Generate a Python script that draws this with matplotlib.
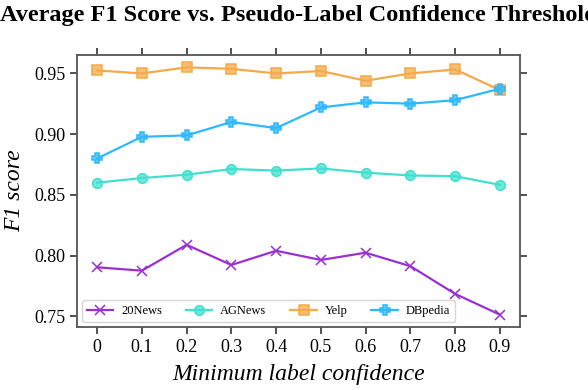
import numpy as np
import matplotlib
matplotlib.use("Agg")
import matplotlib.pyplot as plt

# confidence thresholds and average F1 per dataset
thresholds = [0, 0.1, 0.2, 0.3, 0.4, 0.5, 0.6, 0.7, 0.8, 0.9]
tick_labels = ["0", "0.1", "0.2", "0.3", "0.4", "0.5", "0.6", "0.7", "0.8", "0.9"]

news20 = [0.7904, 0.7876, 0.8089, 0.7923, 0.8040, 0.7964, 0.8024, 0.7913, 0.7685, 0.7514]
agnews = [0.8600, 0.8639, 0.8666, 0.8713, 0.8700, 0.8718, 0.8683, 0.8660, 0.8654, 0.8583]
yelp = [0.9525, 0.9500, 0.9550, 0.9538, 0.9500, 0.9520, 0.9440, 0.9500, 0.9533, 0.9363]
dbpedia = [0.8800, 0.8978, 0.8990, 0.9100, 0.9050, 0.9220, 0.9262, 0.9251, 0.9280, 0.9374]

names = ["20News", "AGNews", "Yelp", "DBpedia"]
colors = ["#9B30D0", "#40E0D0", "#F5A947", "#2DB9FF"]
markers = ["x", "o", "s", "P"]

plt.rcParams["font.family"] = ["Liberation Serif", "DejaVu Serif"]

fig = plt.figure(figsize=(5.88, 3.9), dpi=100)
ax = fig.add_axes([77/588, 1-327/390, (520-77)/588, (327-55)/390])

for ys, name, c, m in zip([news20, agnews, yelp, dbpedia], names, colors, markers):
    ax.plot(thresholds, ys, color=c, lw=1.6, marker=m, markersize=7,
            markerfacecolor=matplotlib.colors.to_rgba(c, 0.75), markeredgecolor=c,
            markeredgewidth=1.1, label=name)

ax.set_xticks(thresholds)
ax.set_xticklabels(tick_labels)
ax.set_yticks([0.75, 0.80, 0.85, 0.90, 0.95])
ax.set_yticklabels(["0.75", "0.80", "0.85", "0.90", "0.95"])
ax.tick_params(axis="both", direction="out", length=5, width=1.1, labelsize=13,
               top=True, right=True, color="#222222")
for s in ax.spines.values():
    s.set_color("#555555")
    s.set_linewidth(1.3)

ax.set_xlabel("Minimum label confidence", fontsize=17, style="italic", labelpad=6)
ax.set_ylabel("F1 score", fontsize=17, style="italic", labelpad=6)

fig.text(298.5/588, 1-21/390, "Average F1 Score vs. Pseudo-Label Confidence Threshold",
         ha="center", va="baseline", fontsize=17.5, fontweight="bold")

leg = ax.legend(loc="lower left", ncol=4, fontsize=9, borderaxespad=0.4,
                handlelength=2.1, handletextpad=0.65, columnspacing=1.9,
                frameon=True, fancybox=True)
leg.get_frame().set_edgecolor("#cccccc")

fig.savefig("out.png", dpi=100)
